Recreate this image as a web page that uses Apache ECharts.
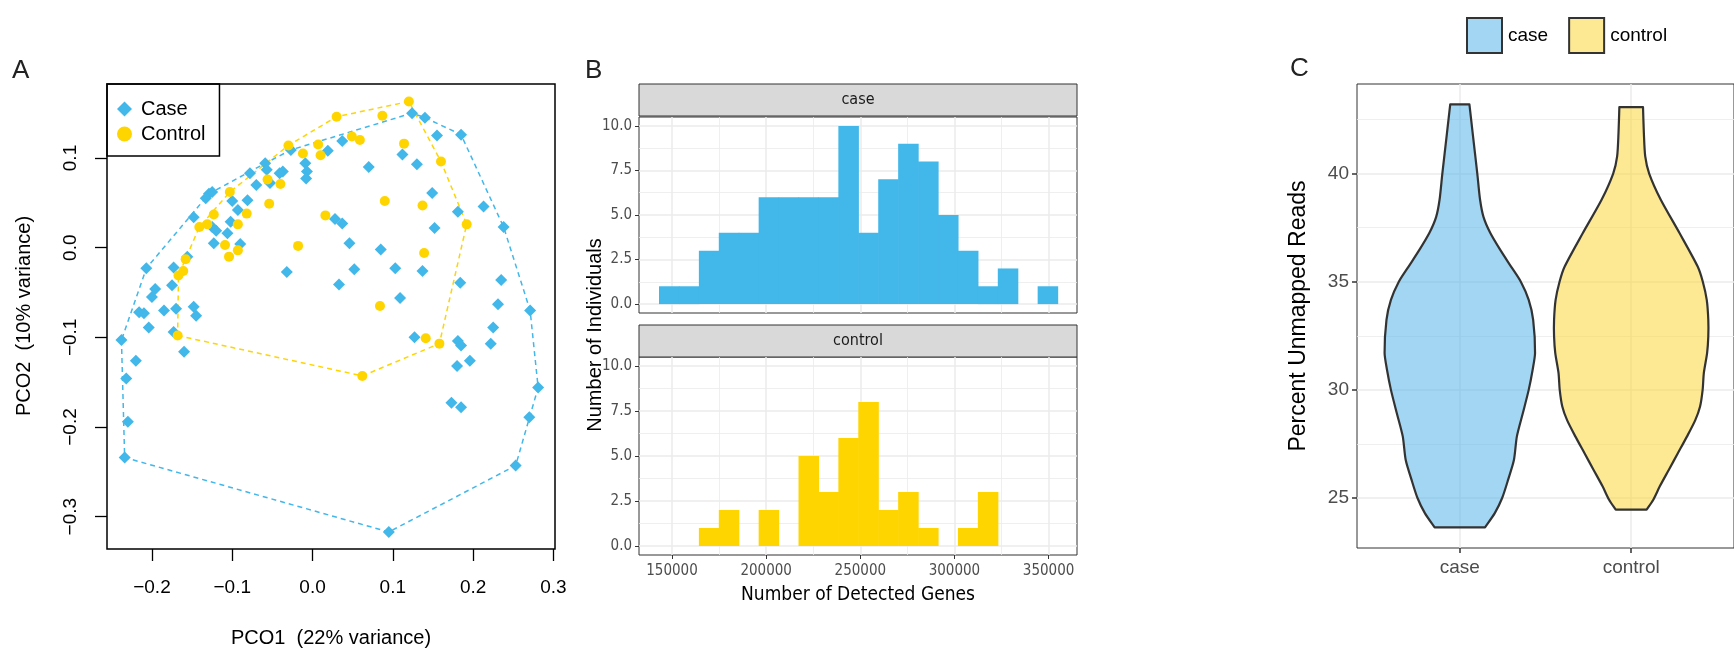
<!DOCTYPE html>
<html>
<head>
<meta charset="utf-8">
<title>PCoA, detected genes and unmapped reads</title>
<script src="https://cdn.jsdelivr.net/npm/echarts@6/dist/echarts.min.js"></script>
<style>
  html, body { margin: 0; padding: 0; background: #fff; }
  #chart { width: 1734px; height: 652px; }
</style>
</head>
<body>
<div id="chart"></div>
<script>
// ---- panel A : PCoA scores [PCO1, PCO2]
var casePCO = [
  [-0.059, 0.094], [-0.057, 0.087], [-0.037, 0.085], [-0.041, 0.083], [-0.078, 0.083], [-0.070, 0.070],
  [-0.053, 0.072], [-0.009, 0.094], [-0.007, 0.085], [-0.008, 0.077], [-0.027, 0.109], [-0.129, 0.060],
  [-0.125, 0.062], [-0.133, 0.055], [-0.100, 0.052], [-0.081, 0.053], [-0.093, 0.042], [-0.148, 0.034],
  [-0.102, 0.029], [-0.125, 0.023], [-0.120, 0.019], [-0.106, 0.016], [-0.123, 0.005], [-0.090, 0.004],
  [-0.156, -0.010], [-0.207, -0.023], [-0.173, -0.022], [-0.032, -0.027], [-0.196, -0.046], [-0.175, -0.042],
  [-0.200, -0.055], [-0.185, -0.070], [-0.170, -0.068], [-0.148, -0.066], [-0.216, -0.072], [-0.210, -0.073],
  [-0.145, -0.076],
  [0.124, 0.150], [0.140, 0.145], [0.037, 0.119], [0.019, 0.108], [0.155, 0.125], [0.185, 0.126],
  [0.112, 0.104], [0.130, 0.093], [0.070, 0.090], [0.149, 0.061], [0.181, 0.040], [0.213, 0.046],
  [0.238, 0.023], [0.028, 0.032], [0.037, 0.027], [0.152, 0.022], [0.046, 0.005], [0.085, -0.002],
  [0.052, -0.024], [0.103, -0.023], [0.137, -0.026], [0.184, -0.039], [0.235, -0.036], [0.033, -0.041],
  [0.109, -0.056], [0.231, -0.063], [0.271, -0.070],
  [0.127, -0.100], [0.181, -0.104], [0.185, -0.109], [0.225, -0.089], [0.222, -0.107], [0.180, -0.132],
  [0.196, -0.126], [0.173, -0.173], [0.185, -0.178], [0.281, -0.156], [0.270, -0.189], [0.253, -0.243],
  [0.095, -0.317],
  [-0.238, -0.103], [-0.204, -0.089], [-0.173, -0.094], [-0.160, -0.116], [-0.220, -0.126], [-0.232, -0.146],
  [-0.230, -0.194], [-0.234, -0.234]
];
var controlPCO = [
  [-0.030, 0.114], [-0.012, 0.105], [0.007, 0.115], [0.010, 0.103], [-0.056, 0.076], [-0.040, 0.071],
  [-0.054, 0.049], [-0.103, 0.062], [-0.123, 0.037], [-0.082, 0.038], [-0.093, 0.026], [-0.141, 0.023],
  [-0.131, 0.026], [-0.109, 0.003], [-0.093, -0.003], [-0.104, -0.010], [-0.018, 0.002], [0.016, 0.036],
  [-0.158, -0.013], [-0.161, -0.026], [-0.167, -0.031], [-0.168, -0.098], [0.030, 0.146], [0.087, 0.147],
  [0.120, 0.163], [0.049, 0.124], [0.059, 0.120], [0.114, 0.116], [0.160, 0.096], [0.090, 0.052],
  [0.137, 0.047], [0.192, 0.026], [0.139, -0.006], [0.084, -0.065], [0.141, -0.101], [0.158, -0.107],
  [0.062, -0.143]
];
var pcoTicksX = [-0.2, -0.1, 0, 0.1, 0.2, 0.3];
var pcoTicksY = [-0.3, -0.2, -0.1, 0, 0.1];

// ---- panel B : histogram of detected genes
var geneBinEdges = [143085, 153670, 164255, 174840, 185425, 196010, 206595, 217180, 227765, 238350, 248935,
  259520, 270105, 280690, 291275, 301860, 312445, 323030, 333615, 344200, 354785];
var caseGeneCounts = [1, 1, 3, 4, 4, 6, 6, 6, 6, 10, 4, 7, 9, 8, 5, 3, 1, 2, 0, 1];
var controlGeneCounts = [0, 0, 1, 2, 0, 2, 0, 5, 3, 6, 8, 2, 3, 1, 0, 1, 3, 0, 0, 0];
var geneTicks = [150000, 200000, 250000, 300000, 350000];
var geneMinor = [175000, 225000, 275000, 325000];
var countTicks = [0, 2.5, 5, 7.5, 10];
var countMinor = [1.25, 3.75, 6.25, 8.75];

// ---- panel C : violin outlines (value, half width in category units)
var groups = ['case', 'control'];
var caseViolinY = [43.2, 41.87, 40.0, 38.8, 38.0, 37.25, 36.47, 35.7, 35.0, 34.16, 33.24, 31.7, 30.93, 30.0,
  28.93, 27.85, 26.77, 25.85, 25.0, 24.3, 23.64];
var caseViolinW = [0.056, 0.075, 0.102, 0.118, 0.138, 0.178, 0.236, 0.299, 0.356, 0.402, 0.428, 0.439, 0.425,
  0.402, 0.368, 0.333, 0.316, 0.282, 0.247, 0.204, 0.147];
var controlViolinY = [43.07, 41.87, 40.79, 40.0, 38.8, 37.25, 35.7, 35.0, 34.16, 33.24, 32.47, 31.7, 30.78,
  30.0, 29.23, 28.6, 27.85, 27.08, 26.31, 25.54, 24.92, 24.46];
var controlViolinW = [0.069, 0.074, 0.082, 0.105, 0.172, 0.282, 0.388, 0.418, 0.441, 0.45, 0.45, 0.443, 0.424,
  0.417, 0.402, 0.374, 0.326, 0.273, 0.220, 0.167, 0.129, 0.090];
var readTicks = [25, 30, 35, 40];
var readMinor = [27.5, 32.5, 37.5, 42.5];

var BLUE = '#42b7e9', GOLD = '#ffd500';
var SANS = '"Liberation Sans", Arial, sans-serif';
var NARROW = '"Liberation Sans Narrow", "DejaVu Sans Condensed", sans-serif';

// convex hull (monotone chain), returned closed
function hull(pts) {
  var p = pts.slice().sort(function (a, b) { return a[0] - b[0] || a[1] - b[1]; });
  function cross(o, a, b) { return (a[0] - o[0]) * (b[1] - o[1]) - (a[1] - o[1]) * (b[0] - o[0]); }
  var lower = [], upper = [];
  p.forEach(function (q) {
    while (lower.length >= 2 && cross(lower[lower.length - 2], lower[lower.length - 1], q) <= 0) lower.pop();
    lower.push(q);
  });
  for (var i = p.length - 1; i >= 0; i--) {
    while (upper.length >= 2 && cross(upper[upper.length - 2], upper[upper.length - 1], p[i]) <= 0) upper.pop();
    upper.push(p[i]);
  }
  upper.pop(); lower.pop();
  var h = lower.concat(upper);
  h.push(h[0]);
  return h;
}

function histData(counts) {
  return counts.map(function (c, i) { return [geneBinEdges[i], geneBinEdges[i + 1], c]; });
}
function renderHist(params, api) {
  var p0 = api.coord([api.value(0), api.value(2)]);
  var p1 = api.coord([api.value(1), 0]);
  return {
    type: 'rect',
    shape: { x: p0[0], y: p0[1], width: p1[0] - p0[0] + 0.6, height: p1[1] - p0[1] },
    style: { fill: api.visual('color') }
  };
}
function violin(levels, widths, fill) {
  return function (params, api) {
    var c = api.value(0), pts = [], n = levels.length;
    for (var i = 0; i < n; i++) {
      var l = api.coord([c - widths[i], levels[i]]);
      pts.push(l);
      if (i === 0 || i === n - 1) pts.push(l.slice()); // keep flat ends sharp
    }
    for (var j = n - 1; j >= 0; j--) {
      var r = api.coord([c + widths[j], levels[j]]);
      pts.push(r);
      if (j === 0 || j === n - 1) pts.push(r.slice());
    }
    return {
      type: 'polygon',
      shape: { points: pts, smooth: 0.25 },
      style: { fill: fill, stroke: '#333', lineWidth: 2.2, lineJoin: 'round' }
    };
  };
}
function fmtPCO(v) { return v.toFixed(1).replace('-', '\u2212'); }

var CASE_FILL = 'rgba(86,180,233,0.55)', CONTROL_FILL = 'rgba(251,214,60,0.55)';

var noLine = { show: false, onZero: false };
function majorGrid(w) { return { show: true, lineStyle: { color: '#ebebeb', width: w } }; }
function minorAxis(grid, min, max, vals) {
  return {
    gridIndex: grid, type: 'value', min: min, max: max,
    axisLine: noLine, axisLabel: { show: false },
    axisTick: { show: false, customValues: vals },
    splitLine: { show: true, lineStyle: { color: '#ebebeb', width: 0.8 } }
  };
}
var bTickStyle = { length: 4, lineStyle: { color: '#333', width: 1 } };

var chart = echarts.init(document.getElementById('chart'), null, { renderer: 'canvas' });
chart.setOption({
  animation: false,
  backgroundColor: '#fff',
  grid: [
    { left: 107, top: 84, width: 448, height: 465, show: true, borderColor: '#000', borderWidth: 1.5, backgroundColor: 'transparent', containLabel: false },
    { left: 639, top: 117, width: 438, height: 196, show: true, borderColor: '#333', borderWidth: 1, backgroundColor: 'transparent', containLabel: false },
    { left: 639, top: 357, width: 438, height: 198, show: true, borderColor: '#333', borderWidth: 1, backgroundColor: 'transparent', containLabel: false },
    { left: 1357, top: 84, width: 382, height: 464, show: true, borderColor: '#333', borderWidth: 1, backgroundColor: 'transparent', containLabel: false }
  ],
  xAxis: [
    {
      gridIndex: 0, type: 'value', min: -0.256, max: 0.302,
      axisLine: noLine, splitLine: { show: false },
      axisTick: { customValues: pcoTicksX, length: 12, lineStyle: { color: '#000', width: 1.3 } },
      axisLabel: { customValues: pcoTicksX, formatter: fmtPCO, fontSize: 19, fontFamily: SANS, color: '#000', margin: 29 }
    },
    {
      gridIndex: 1, type: 'value', min: 132450, max: 365100,
      axisLine: noLine, axisLabel: { show: false },
      axisTick: { show: false, customValues: geneTicks }, splitLine: majorGrid(1.5)
    },
    minorAxis(1, 132450, 365100, geneMinor),
    {
      gridIndex: 2, type: 'value', min: 132450, max: 365100,
      axisLine: noLine, splitLine: majorGrid(1.5),
      axisTick: Object.assign({ customValues: geneTicks }, bTickStyle),
      axisLabel: { customValues: geneTicks, formatter: function (v) { return String(v); }, fontSize: 15, fontFamily: NARROW, color: '#4d4d4d', margin: 9 }
    },
    minorAxis(2, 132450, 365100, geneMinor),
    {
      gridIndex: 3, type: 'value', min: 0.4, max: 2.6,
      axisLine: noLine, splitLine: majorGrid(1.5),
      axisTick: { customValues: [1, 2], length: 5, lineStyle: { color: '#333', width: 1.5 } },
      axisLabel: { customValues: [1, 2], formatter: function (v) { return groups[Math.round(v) - 1]; }, fontSize: 19, fontFamily: SANS, color: '#4d4d4d', margin: 10 }
    }
  ],
  yAxis: [
    {
      gridIndex: 0, type: 'value', min: -0.336, max: 0.1825,
      axisLine: noLine, splitLine: { show: false },
      axisTick: { customValues: pcoTicksY, length: 12, lineStyle: { color: '#000', width: 1.3 } },
      axisLabel: { customValues: pcoTicksY, formatter: fmtPCO, rotate: 90, fontSize: 19, fontFamily: SANS, color: '#000', margin: 27 }
    },
    {
      gridIndex: 1, type: 'value', min: -0.5, max: 10.5,
      axisLine: noLine, splitLine: majorGrid(1.5),
      axisTick: Object.assign({ customValues: countTicks }, bTickStyle),
      axisLabel: { customValues: countTicks, formatter: function (v) { return v.toFixed(1); }, fontSize: 15, fontFamily: NARROW, color: '#4d4d4d', margin: 7 }
    },
    minorAxis(1, -0.5, 10.5, countMinor),
    {
      gridIndex: 2, type: 'value', min: -0.5, max: 10.5,
      axisLine: noLine, splitLine: majorGrid(1.5),
      axisTick: Object.assign({ customValues: countTicks }, bTickStyle),
      axisLabel: { customValues: countTicks, formatter: function (v) { return v.toFixed(1); }, fontSize: 15, fontFamily: NARROW, color: '#4d4d4d', margin: 7 }
    },
    minorAxis(2, -0.5, 10.5, countMinor),
    {
      gridIndex: 3, type: 'value', min: 22.69, max: 44.14,
      axisLine: noLine, splitLine: majorGrid(1.5),
      axisTick: { customValues: readTicks, length: 5, lineStyle: { color: '#333', width: 1.5 } },
      axisLabel: { customValues: readTicks, fontSize: 19, fontFamily: SANS, color: '#4d4d4d', margin: 8 }
    },
    minorAxis(3, 22.69, 44.14, readMinor)
  ],
  legend: [
    {
      left: 107, top: 84, orient: 'vertical', selectedMode: false,
      data: [{ name: 'Case', icon: 'diamond' }, { name: 'Control', icon: 'circle' }],
      borderColor: '#000', borderWidth: 1.5, padding: [15, 14, 12, 10], itemGap: 5,
      itemWidth: 15, itemHeight: 15,
      textStyle: { fontSize: 20, fontFamily: SANS, color: '#000', padding: [0, 0, 0, 4] }
    },
    {
      left: 1461, top: 12, orient: 'horizontal', selectedMode: false,
      data: [
        { name: 'case', icon: 'rect', itemStyle: { color: CASE_FILL, borderColor: '#333', borderWidth: 2 } },
        { name: 'control', icon: 'rect', itemStyle: { color: CONTROL_FILL, borderColor: '#333', borderWidth: 2 } }
      ],
      itemWidth: 35, itemHeight: 35, itemGap: 20,
      textStyle: { fontSize: 19, fontFamily: SANS, color: '#000', padding: [0, 0, 0, 1] }
    }
  ],
  series: [
    {
      name: 'case hull', type: 'line', xAxisIndex: 0, yAxisIndex: 0, data: hull(casePCO),
      symbol: 'none', silent: true, z: 1,
      lineStyle: { color: BLUE, width: 1.5, type: [5, 4] }
    },
    {
      name: 'control hull', type: 'line', xAxisIndex: 0, yAxisIndex: 0, data: hull(controlPCO),
      symbol: 'none', silent: true, z: 1,
      lineStyle: { color: GOLD, width: 1.5, type: [5, 4] }
    },
    {
      name: 'Case', type: 'scatter', xAxisIndex: 0, yAxisIndex: 0, data: casePCO,
      symbol: 'diamond', symbolSize: 12, itemStyle: { color: BLUE, opacity: 1 }, z: 2
    },
    {
      name: 'Control', type: 'scatter', xAxisIndex: 0, yAxisIndex: 0, data: controlPCO,
      symbol: 'circle', symbolSize: 10, itemStyle: { color: GOLD, opacity: 1 }, z: 3
    },
    {
      name: 'case genes', type: 'custom', xAxisIndex: 1, yAxisIndex: 1,
      data: histData(caseGeneCounts), encode: { x: [0, 1], y: 2 },
      itemStyle: { color: BLUE }, renderItem: renderHist
    },
    {
      name: 'control genes', type: 'custom', xAxisIndex: 3, yAxisIndex: 3,
      data: histData(controlGeneCounts), encode: { x: [0, 1], y: 2 },
      itemStyle: { color: GOLD }, renderItem: renderHist
    },
    {
      name: 'case', type: 'custom', xAxisIndex: 5, yAxisIndex: 5,
      data: [[1, caseViolinY[0]]], encode: { x: 0, y: 1 },
      itemStyle: { color: CASE_FILL }, renderItem: violin(caseViolinY, caseViolinW, CASE_FILL)
    },
    {
      name: 'control', type: 'custom', xAxisIndex: 5, yAxisIndex: 5,
      data: [[2, controlViolinY[0]]], encode: { x: 0, y: 1 },
      itemStyle: { color: CONTROL_FILL }, renderItem: violin(controlViolinY, controlViolinW, CONTROL_FILL)
    }
  ],
  graphic: [
    { type: 'text', x: 12, y: 58, style: { text: 'A', fontSize: 26, fontFamily: SANS, fill: '#222' } },
    { type: 'text', x: 585, y: 58, style: { text: 'B', fontSize: 26, fontFamily: SANS, fill: '#222' } },
    { type: 'text', x: 1290, y: 56, style: { text: 'C', fontSize: 26, fontFamily: SANS, fill: '#222' } },
    // facet strips
    { type: 'rect', shape: { x: 639, y: 84, width: 438, height: 32 }, style: { fill: '#d9d9d9', stroke: '#333', lineWidth: 1 } },
    { type: 'text', x: 858, y: 100, style: { text: 'case', fontSize: 16, fontFamily: NARROW, fill: '#1a1a1a', align: 'center', verticalAlign: 'middle' } },
    { type: 'rect', shape: { x: 639, y: 325, width: 438, height: 32 }, style: { fill: '#d9d9d9', stroke: '#333', lineWidth: 1 } },
    { type: 'text', x: 858, y: 341, style: { text: 'control', fontSize: 16, fontFamily: NARROW, fill: '#1a1a1a', align: 'center', verticalAlign: 'middle' } },
    // axis titles
    { type: 'text', x: 331, y: 638, style: { text: 'PCO1  (22% variance)', fontSize: 20, fontFamily: SANS, fill: '#000', align: 'center', verticalAlign: 'middle' } },
    { type: 'text', x: 24, y: 316, rotation: Math.PI / 2, style: { text: 'PCO2  (10% variance)', fontSize: 20, fontFamily: SANS, fill: '#000', align: 'center', verticalAlign: 'middle' } },
    { type: 'text', x: 858, y: 595, style: { text: 'Number of Detected Genes', fontSize: 19, fontFamily: NARROW, fill: '#000', align: 'center', verticalAlign: 'middle' } },
    { type: 'text', x: 595, y: 335, rotation: Math.PI / 2, style: { text: 'Number of Individuals', fontSize: 20, fontFamily: SANS, fill: '#000', align: 'center', verticalAlign: 'middle' } },
    { type: 'text', x: 1299, y: 316, rotation: Math.PI / 2, style: { text: 'Percent Unmapped Reads', fontSize: 23, fontFamily: SANS, fill: '#000', align: 'center', verticalAlign: 'middle' } }
  ]
});
window.addEventListener('resize', function () { chart.resize(); });
</script>
</body>
</html>
